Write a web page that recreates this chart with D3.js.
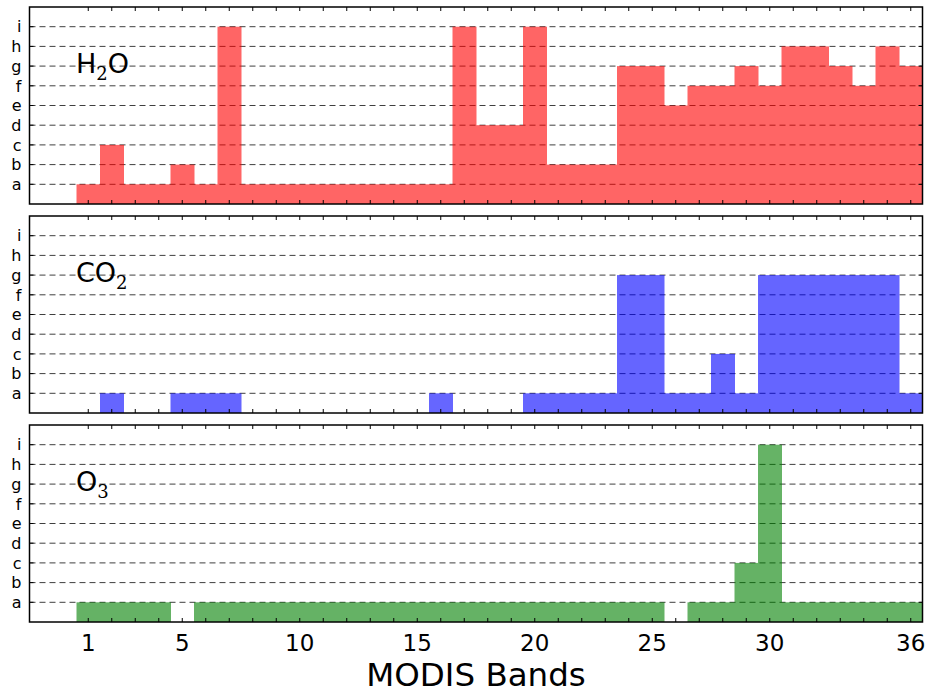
<!DOCTYPE html>
<html lang="en">
<head>
  <meta charset="UTF-8">
  <title>MODIS Bands absorbers</title>
  <script src="https://d3js.org/d3.v7.min.js"></script>
  <style>
    body { margin: 0; background: #fff; }
    svg { font-family: "DejaVu Sans", sans-serif; }
    .grid line { stroke: #000; stroke-dasharray: 6,4; stroke-width: 1; opacity: 0.75; }
    .frame { fill: none; stroke: #000; stroke-width: 1.5px; }
    .ylab { font-size: 16px; fill: #000; }
    .xlab { font-size: 23px; fill: #000; }
  </style>
</head>
<body>
  <div id="chart"></div>
  <script>
    const bands = d3.range(1, 37);
    const levels = ["a", "b", "c", "d", "e", "f", "g", "h", "i"];
    const xTicks = [1, 5, 10, 15, 20, 25, 30, 36];

    // level per band (0 = none, 1 = a ... 9 = i)
    const h2o = [1, 3, 1, 1, 2, 1, 9, 1, 1, 1, 1, 1, 1, 1, 1, 1, 9, 4, 4, 9, 2, 2, 2, 7, 7, 5, 6, 6, 7, 6, 8, 8, 7, 6, 8, 7];
    const co2 = [0, 1, 0, 0, 1, 1, 1, 0, 0, 0, 0, 0, 0, 0, 0, 1, 0, 0, 0, 1, 1, 1, 1, 7, 7, 1, 1, 3, 1, 7, 7, 7, 7, 7, 7, 1];
    const o3  = [1, 1, 1, 1, 0, 1, 1, 1, 1, 1, 1, 1, 1, 1, 1, 1, 1, 1, 1, 1, 1, 1, 1, 1, 1, 0, 1, 1, 3, 9, 1, 1, 1, 1, 1, 1];

    const panels = [
      { name: "H", sub: "2", tail: "O", values: h2o, color: "#ff0000" },
      { name: "CO", sub: "2", tail: "", values: co2, color: "#0000ff" },
      { name: "O", sub: "3", tail: "", values: o3, color: "#008000" }
    ];

    const W = 933, H = 696;
    const left = 29.5, right = 922.5;
    const panelTops = [7, 216, 425], panelH = 197;

    const svg = d3.select("#chart").append("svg")
      .attr("width", W).attr("height", H);

    const x = d3.scaleLinear().domain([-1.5, 36.5]).range([left, right]);

    panels.forEach((p, pi) => {
      const top = panelTops[pi];
      const y = d3.scaleLinear().domain([0, 10]).range([top + panelH, top]);
      const g = svg.append("g");

      // dashed grid
      g.append("g").attr("class", "grid")
        .selectAll("line").data(d3.range(1, 10)).join("line")
        .attr("x1", left).attr("x2", right)
        .attr("y1", d => y(d)).attr("y2", d => y(d));

      // bars (group opacity so touching bars do not show seams)
      g.append("g").attr("opacity", 0.6)
        .selectAll("rect").data(bands.map((b, i) => ({ b, v: p.values[i] })).filter(d => d.v > 0))
        .join("rect")
        .attr("x", d => x(d.b - 0.5))
        .attr("width", d => x(d.b + 0.5) - x(d.b - 0.5) + 0.5)
        .attr("y", d => y(d.v))
        .attr("height", d => y(0) - y(d.v))
        .attr("fill", p.color);

      // ticks every band, top and bottom, inward
      const bt = g.append("g");
      bands.forEach(b => {
        bt.append("line").attr("x1", x(b)).attr("x2", x(b))
          .attr("y1", y(0)).attr("y2", y(0) - 4).attr("stroke", "#000");
        bt.append("line").attr("x1", x(b)).attr("x2", x(b))
          .attr("y1", top).attr("y2", top + 4).attr("stroke", "#000");
      });
      // y ticks left/right
      d3.range(1, 10).forEach(l => {
        bt.append("line").attr("x1", left).attr("x2", left + 4)
          .attr("y1", y(l)).attr("y2", y(l)).attr("stroke", "#000");
        bt.append("line").attr("x1", right - 4).attr("x2", right)
          .attr("y1", y(l)).attr("y2", y(l)).attr("stroke", "#000");
      });

      // y labels
      g.selectAll("text.ylab").data(levels).join("text")
        .attr("class", "ylab")
        .attr("x", left - 8)
        .attr("y", (d, i) => y(i + 1))
        .attr("dy", "0.36em")
        .attr("text-anchor", "end")
        .text(d => d);

      // frame
      g.append("rect").attr("class", "frame")
        .attr("x", left).attr("y", top)
        .attr("width", right - left).attr("height", panelH);

      // gas label
      const t = g.append("text")
        .attr("x", 76).attr("y", top + 66)
        .attr("font-size", 27).attr("fill", "#000");
      t.append("tspan").text(p.name);
      t.append("tspan").attr("font-family", "DejaVu Serif, serif")
        .attr("font-size", 18).attr("dy", 7).text(p.sub);
      if (p.tail) t.append("tspan").attr("dy", -7).text(p.tail);

      if (pi === 2) {
        g.selectAll("text.xlab").data(xTicks).join("text")
          .attr("class", "xlab")
          .attr("x", d => x(d))
          .attr("y", top + panelH + 29)
          .attr("text-anchor", "middle")
          .text(d => d);
      }
    });

    svg.append("text")
      .attr("x", x(17.5))
      .attr("y", 686)
      .attr("text-anchor", "middle")
      .attr("font-size", 32.5)
      .text("MODIS Bands");
  </script>
</body>
</html>
